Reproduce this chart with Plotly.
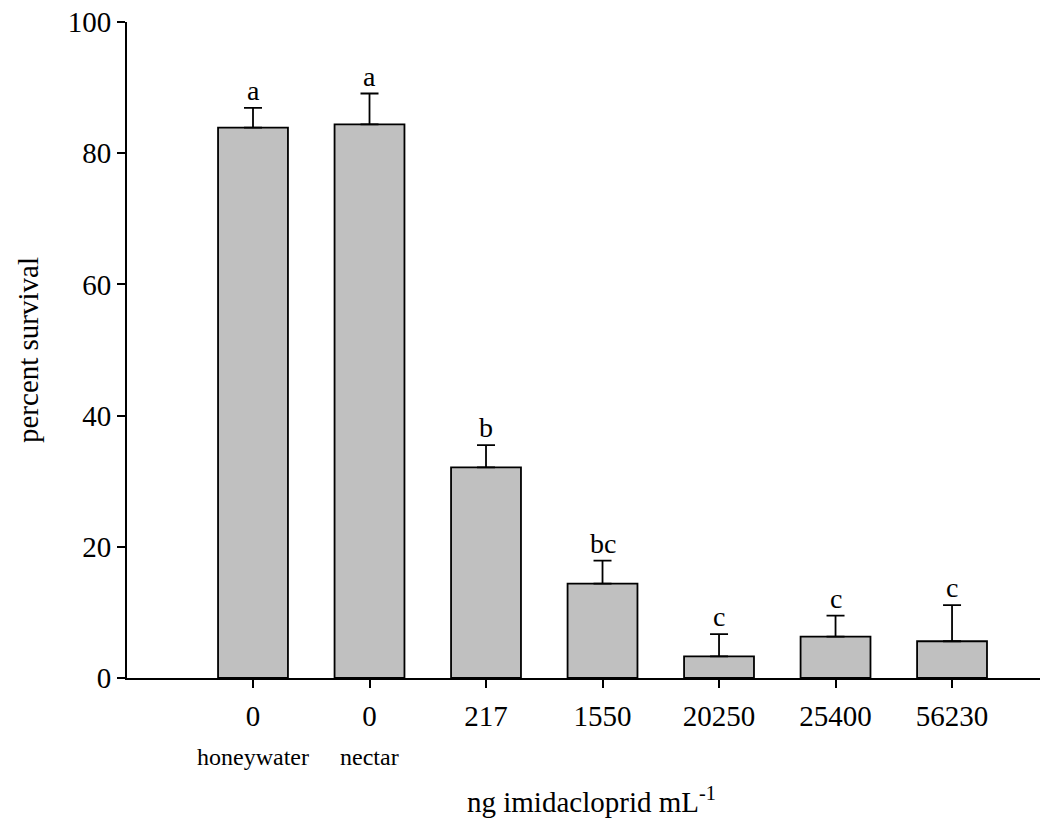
import plotly.graph_objects as go

doses = ["0", "0", "217", "1550", "20250", "25400", "56230"]
sublabels = ["honeywater", "nectar", "", "", "", "", ""]
survival = [83.9, 84.4, 32.1, 14.4, 3.3, 6.3, 5.6]
err_plus = [3.0, 4.7, 3.4, 3.5, 3.4, 3.2, 5.5]
letters = ["a", "a", "b", "bc", "c", "c", "c"]

pos = list(range(len(doses)))
FONT = "Liberation Serif, Times New Roman, serif"

fig = go.Figure()
fig.add_trace(go.Bar(
    x=pos, y=survival, width=0.6,
    marker=dict(color="#c0c0c0", line=dict(color="black", width=1.8)),
    error_y=dict(type="data", symmetric=False, array=err_plus, arrayminus=[0]*len(pos),
                 color="black", thickness=1.8, width=9),
    showlegend=False,
))

for p, v, e, l in zip(pos, survival, err_plus, letters):
    fig.add_annotation(x=p, y=v + e, text=l, showarrow=False, yanchor="bottom",
                       yshift=0, font=dict(family=FONT, size=28, color="black"))

for p, s in zip(pos, sublabels):
    if s:
        fig.add_annotation(x=p, y=0, yref="paper", text=s, showarrow=False,
                           yanchor="middle", yshift=-79,
                           font=dict(family=FONT, size=24, color="black"))

fig.add_annotation(x=0.5, y=0, xref="paper", yref="paper", showarrow=False,
                   text="ng imidacloprid mL<sup>-1</sup>", yanchor="middle", yshift=-122,
                   xshift=8, font=dict(family=FONT, size=29, color="black"))
fig.add_annotation(x=0, y=0.5, xref="paper", yref="paper", showarrow=False,
                   text="percent survival", textangle=-90, xanchor="center",
                   xshift=-99, font=dict(family=FONT, size=29, color="black"))

fig.update_layout(
    width=1044, height=823,
    margin=dict(l=119, r=12, t=14, b=153, autoexpand=False),
    plot_bgcolor="white", paper_bgcolor="white",
    font=dict(family=FONT, size=29, color="black"),
    xaxis=dict(range=[-1.0815, 6.755], tickmode="array", tickvals=pos, ticktext=doses,
               showline=True, linecolor="black", linewidth=2, ticks="outside",
               ticklen=8, tickwidth=2, tickcolor="black", showgrid=False, zeroline=False,
               automargin=False, ticklabelstandoff=3, tickfont=dict(family=FONT, size=29)),
    yaxis=dict(range=[0, 100], tickvals=[0, 20, 40, 60, 80, 100],
               showline=True, linecolor="black", linewidth=2, ticks="outside",
               ticklen=8, tickwidth=2, tickcolor="black", showgrid=False, zeroline=False,
               automargin=False, ticklabeloverflow="allow",
               tickfont=dict(family=FONT, size=29)),
)

fig.write_html("out.html")
